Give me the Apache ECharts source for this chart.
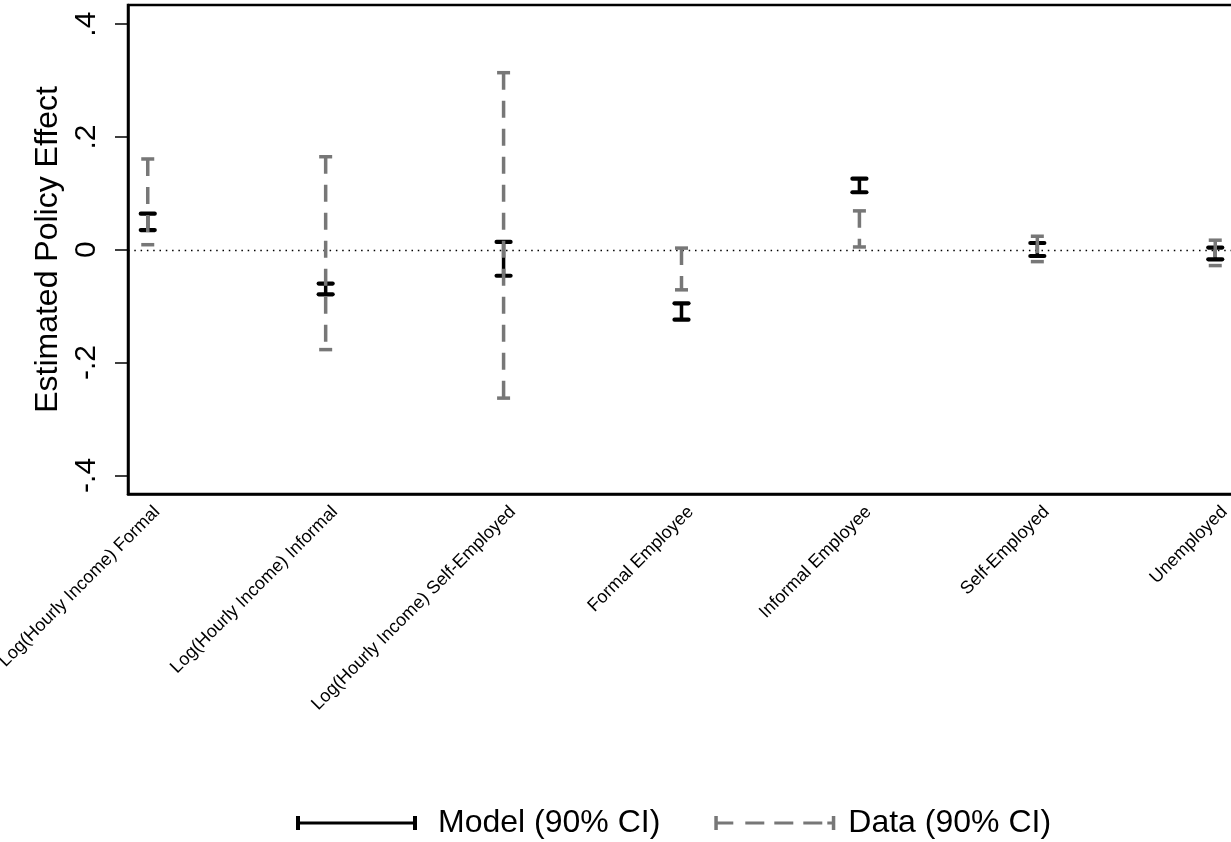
<!DOCTYPE html>
<html>
<head>
<meta charset="utf-8">
<script src="https://cdn.jsdelivr.net/npm/echarts@6/dist/echarts.min.js"></script>
<style>
html,body{margin:0;padding:0;background:#fff;}
#chart{width:1231px;height:842px;}
</style>
</head>
<body>
<div id="chart"></div>
<script>
// ---- data ----
const categories = [
  "Log(Hourly Income) Formal",
  "Log(Hourly Income) Informal",
  "Log(Hourly Income) Self-Employed",
  "Formal Employee",
  "Informal Employee",
  "Self-Employed",
  "Unemployed"
];
const modelLow  = [0.035, -0.079, -0.046, -0.124, 0.102, -0.011, -0.017];
const modelHigh = [0.064, -0.060,  0.014, -0.095, 0.126,  0.012,  0.004];
const dataLow   = [0.009, -0.177, -0.263, -0.071, 0.005, -0.021, -0.028];
const dataHigh  = [0.161,  0.165,  0.314,  0.003, 0.069,  0.024,  0.017];
const yTickValues = [-0.4, -0.2, 0, 0.2, 0.4];
const yTickLabels = ["-.4", "-.2", "0", ".2", ".4"];
const seriesNames = ["Model (90% CI)", "Data (90% CI)"];

const BLACK = '#000000';
const GRAY = '#777777';

const catPositions = categories.map((c, i) => i + 1);
const modelData = categories.map((c, i) => [i + 1, modelLow[i], modelHigh[i]]);
const dataData = categories.map((c, i) => [i + 1, dataLow[i], dataHigh[i]]);

function makeRender(opts) {
  return function (params, api) {
    const x = api.value(0), lo = api.value(1), hi = api.value(2);
    const pHi = api.coord([x, hi]);
    const pLo = api.coord([x, lo]);
    const hw = opts.capHalf;
    return {
      type: 'group',
      children: [
        {type: 'line', shape: {x1: pHi[0], y1: pHi[1], x2: pLo[0], y2: pLo[1]},
         style: {stroke: opts.color, lineWidth: opts.width, lineDash: opts.dash, lineCap: 'butt', fill: null}},
        {type: 'line', shape: {x1: pHi[0] - hw, y1: pHi[1], x2: pHi[0] + hw, y2: pHi[1]},
         style: {stroke: opts.color, lineWidth: opts.capWidth, lineCap: opts.capCap, fill: null}},
        {type: 'line', shape: {x1: pLo[0] - hw, y1: pLo[1], x2: pLo[0] + hw, y2: pLo[1]},
         style: {stroke: opts.color, lineWidth: opts.capWidth, lineCap: opts.capCap, fill: null}}
      ]
    };
  };
}

const modelIcon = 'path://M0,0H4V14H0Z M0,5.5H121V8.5H0Z M117,0H121V14H117Z';
const dataIcon = 'path://M0,0H3.5V14H0Z M0,5.5H19V8.5H0Z M31,5.5H50V8.5H31Z M60,5.5H79V8.5H60Z M89,5.5H108V8.5H89Z M117.5,0H121V14H117.5Z M113,5.5H121V8.5H113Z';

const chart = echarts.init(document.getElementById('chart'), null, {renderer: 'canvas'});
const option = {
  backgroundColor: '#ffffff',
  animation: false,
  textStyle: {fontFamily: 'Liberation Sans, Arial, Helvetica, sans-serif', color: '#000'},
  grid: {
    left: 128, top: 5, width: 1107, height: 489,
    show: true, borderColor: '#000', borderWidth: 2.5, backgroundColor: '#fff',
    containLabel: false, outerBoundsMode: 'none'
  },
  legend: {
    left: 291, top: 802,
    itemGap: 54, itemWidth: 121, itemHeight: 14,
    selectedMode: false,
    textStyle: {fontSize: 32, color: '#000', padding: [0, 0, 0, 16]},
    data: [
      {name: seriesNames[0], icon: modelIcon},
      {name: seriesNames[1], icon: dataIcon, textStyle: {fontSize: 32, color: '#000', padding: [0, 0, 0, 8]}}
    ]
  },
  xAxis: {
    type: 'value', min: 0.889, max: 7.111,
    axisLine: {show: true, onZero: false, lineStyle: {color: '#000', width: 2.5}},
    axisTick: {show: false},
    splitLine: {show: false},
    axisLabel: {
      customValues: catPositions,
      formatter: v => categories[Math.round(v) - 1] || '',
      rotate: 45, fontSize: 18, color: '#000', margin: 6, verticalAlign: 'top',
      padding: [4, 0, 0, 0]
    }
  },
  yAxis: {
    type: 'value', min: -0.433, max: 0.434,
    axisLine: {show: true, onZero: false, lineStyle: {color: '#000', width: 2.5}},
    axisTick: {show: true, length: 13, lineStyle: {color: '#000', width: 1.5}, customValues: yTickValues},
    splitLine: {show: false},
    axisLabel: {
      customValues: yTickValues,
      formatter: v => {
        const i = yTickValues.findIndex(t => Math.abs(t - v) < 1e-9);
        return i >= 0 ? yTickLabels[i] : '';
      },
      rotate: 90, fontSize: 30, color: '#000', margin: 26
    },
    name: 'Estimated Policy Effect',
    nameLocation: 'middle', nameRotate: 90, nameGap: 47,
    nameTextStyle: {fontSize: 32, color: '#000'}
  },
  series: [
    {
      name: seriesNames[0], type: 'custom',
      itemStyle: {color: BLACK},
      encode: {x: 0, y: [1, 2]},
      data: modelData,
      renderItem: makeRender({color: BLACK, width: 3.5, dash: null, capHalf: 7, capWidth: 4.2, capCap: 'round'}),
      z: 3,
      markLine: {
        silent: true, symbol: ['none', 'none'], label: {show: false},
        lineStyle: {color: '#000', width: 1.3, type: [1.5, 4.8]},
        data: [{yAxis: 0}],
        z: 1
      }
    },
    {
      name: seriesNames[1], type: 'custom',
      itemStyle: {color: GRAY},
      encode: {x: 0, y: [1, 2]},
      data: dataData,
      renderItem: makeRender({color: GRAY, width: 3.5, dash: [17, 11], capHalf: 6.5, capWidth: 3.5, capCap: 'butt'}),
      z: 4
    }
  ]
};
chart.setOption(option);
</script>
</body>
</html>
